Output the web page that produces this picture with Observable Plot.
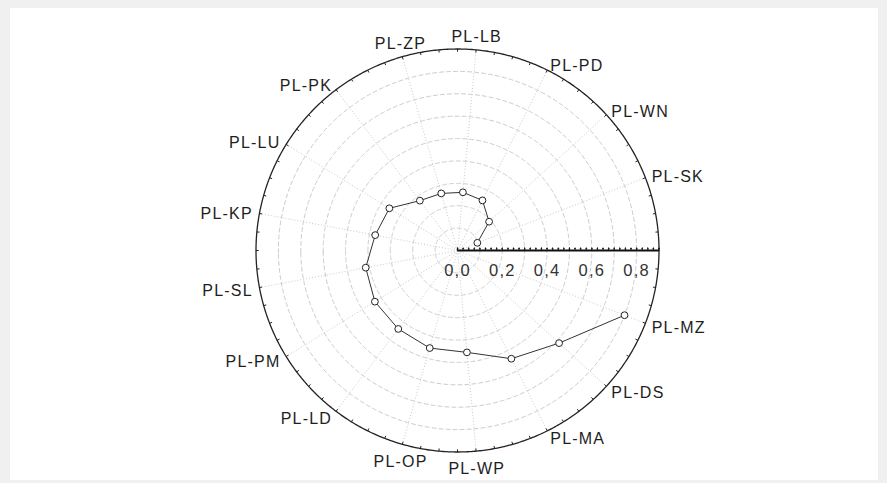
<!DOCTYPE html>
<html><head><meta charset="utf-8">
<script src="https://cdn.jsdelivr.net/npm/d3@7"></script>
<script src="https://cdn.jsdelivr.net/npm/@observablehq/plot@0.6"></script>
<style>
html,body{margin:0;padding:0;background:#f0f0f0;}
#wrap{position:relative;width:887px;height:483px;overflow:hidden;}
#panel{position:absolute;left:10px;top:8px;width:868px;height:472px;background:#fff;}
#chart{position:absolute;left:0;top:0;}
#chart svg text{letter-spacing:1.2px;}
</style></head><body>
<div id="wrap"><div id="panel"></div><div id="chart"></div></div>
<script>
// Categories (counter-clockwise from the radial axis)
const regions = ["PL-SK","PL-WN","PL-PD","PL-LB","PL-ZP","PL-PK","PL-LU","PL-KP",
                 "PL-SL","PL-PM","PL-LD","PL-OP","PL-WP","PL-MA","PL-DS","PL-MZ"];
// Values
const values = [0.095, 0.191, 0.250, 0.261, 0.265, 0.279, 0.358, 0.374,
                0.417, 0.434, 0.439, 0.453, 0.457, 0.540, 0.614, 0.800];
// Radial axis tick labels and grid rings
const axisLabels = [0, 0.2, 0.4, 0.6, 0.8];
const gridRings = [0.1, 0.2, 0.3, 0.4, 0.5, 0.6, 0.7, 0.8];
const rMax = 0.9;
const slots = 17;          // angular range 0..17 spans 360°
const minorPerSlot = 4;
const radialMinor = 0.025;

const angleOf = i => (i + 1) * 360 / slots;      // math angle, ccw from east
const lonOf = a => a + 90;                        // longitude in polar projection
const data = regions.map((name, i) => ({name, value: values[i], angle: angleOf(i)}));
const locale = d3.formatLocale({decimal: ",", thousands: ".", grouping: [3], currency: ["", ""]});
const fmt = locale.format(".1f");
const angularTicks = d3.range(0, slots * minorPerSlot).map(j => j * 360 / (slots * minorPerSlot));
const radialTicks = d3.range(0, Math.round(rMax / radialMinor) + 1).map(j => j * radialMinor);
const ring = r => d3.geoCircle().center([0, 90]).radius(r).precision(0.5)();

const cosA = d => Math.cos(d.angle * Math.PI / 180);
const sinA = d => Math.sin(d.angle * Math.PI / 180);
const rightLab = data.filter(d => cosA(d) >= 0.3);
const leftLab = data.filter(d => cosA(d) <= -0.3);
const topLab = data.filter(d => Math.abs(cosA(d)) < 0.3 && sinA(d) > 0);
const botLab = data.filter(d => Math.abs(cosA(d)) < 0.3 && sinA(d) < 0);
const labR = rMax + 0.03;
const labOpts = {x: d => lonOf(d.angle), y: d => 90 - labR, text: "name", fill: "#1e1e1e", fontSize: 16};

const plot = Plot.plot({
  width: 887, height: 483,
  marginLeft: 255.5, marginRight: 228.5, marginTop: 48.5, marginBottom: 31.5,
  projection: {
    type: "azimuthal-equidistant",
    rotate: [0, -90],
    domain: ring(rMax),
    clip: false
  },
  style: {background: "transparent", fontFamily: "'Liberation Sans', Arial, sans-serif", fontSize: "16px", color: "#222"},
  marks: [
    Plot.geo(gridRings, {geometry: ring, stroke: "#cacaca", strokeDasharray: "4,3", fill: "none", strokeWidth: 1}),
    Plot.link(data, {x1: d => lonOf(d.angle), y1: 90, x2: d => lonOf(d.angle), y2: 90 - rMax,
                     stroke: "#cacaca", strokeDasharray: "1,2", strokeWidth: 1}),
    Plot.geo([rMax], {geometry: ring, stroke: "#222", strokeWidth: 1.3, fill: "none"}),
    Plot.link(angularTicks, {x1: a => lonOf(a), y1: 90 - rMax, x2: a => lonOf(a), y2: 90 - rMax + 0.012,
                             stroke: "#222", strokeWidth: 1}),
    Plot.link([rMax], {x1: () => 90, y1: () => 90, x2: () => 90, y2: r => 90 - r, stroke: "#111", strokeWidth: 2}),
    Plot.vector(radialTicks, {x: () => 90, y: v => 90 - v, length: 2.5, rotate: 0, anchor: "start", stroke: "#111", strokeWidth: 1}),
    Plot.text(axisLabels, {x: () => 90, y: v => 90 - v, text: v => fmt(v), dy: 20, fill: "#333", fontSize: 16.5}),
    Plot.line(data, {x: d => lonOf(d.angle), y: d => 90 - d.value, stroke: "#333", strokeWidth: 1, curve: "linear"}),
    Plot.dot(data, {x: d => lonOf(d.angle), y: d => 90 - d.value, r: 3.4, fill: "white", stroke: "#222", strokeWidth: 1}),
    Plot.text(rightLab, {...labOpts, textAnchor: "start", lineAnchor: "middle", dy: 2}),
    Plot.text(leftLab, {...labOpts, textAnchor: "end", lineAnchor: "middle", dy: 2}),
    Plot.text(topLab, {...labOpts, textAnchor: "middle", lineAnchor: "bottom", dy: -1}),
    Plot.text(botLab, {...labOpts, textAnchor: "middle", lineAnchor: "top", dy: 5})
  ]
});
document.getElementById("chart").appendChild(plot);
</script>
</body></html>
